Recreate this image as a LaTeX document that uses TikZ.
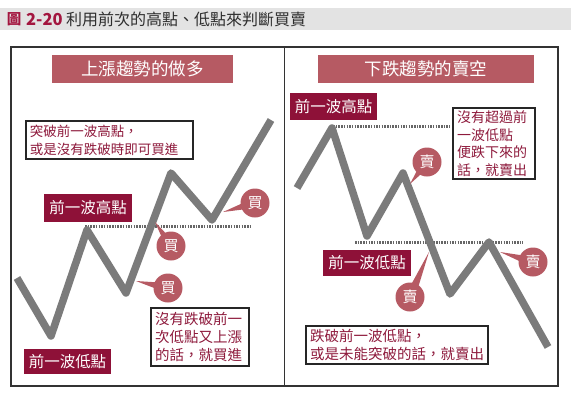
\documentclass[tikz,border=0pt]{standalone}
\usepackage{fontspec}
\setmainfont{Noto Sans CJK TC}
\usetikzlibrary{calc}
\definecolor{hdr}{HTML}{E3E3E3}
\definecolor{titlered}{HTML}{A3163F}
\definecolor{titlegray}{HTML}{2E2E2E}
\definecolor{titlebg}{HTML}{B65A63}
\definecolor{maroon}{HTML}{8E1138}
\definecolor{notered}{HTML}{8E1A3C}
\definecolor{bubblecol}{HTML}{B65A63}
\definecolor{wavegray}{HTML}{7B7B7B}
\definecolor{framecol}{HTML}{333333}
\newcommand\bubtail[2]{\fill[bubblecol] (#2) -- ($(#1)!5pt!90:(#2)$) -- ($(#1)!5pt!-90:(#2)$) -- cycle;}
\tikzset{
  framebox/.style={draw=framecol, line width=1.5pt},
  tbox/.style={fill=titlebg, text=white, inner sep=0pt, minimum height=28pt, font=\fontsize{17.5}{20}\selectfont},
  lbl/.style={fill=maroon, text=white, inner sep=0pt, font=\fontsize{15.5}{18}\selectfont},
  note/.style={draw=black!85, line width=1.2pt, fill=white, text=notered, align=left, inner xsep=4pt, inner ysep=2pt, font=\fontsize{13.5}{18}\selectfont},
  bubble/.style={circle, fill=bubblecol, text=white, minimum size=29pt, inner sep=0pt, font=\fontsize{15}{15}\selectfont},
  wave/.style={draw=wavegray, line width=7.5pt, line join=round},
  dots/.style={draw=black!60, line width=3pt, dash pattern=on 1.5pt off 1.2pt}
}
\begin{document}
\begin{tikzpicture}[x=1pt,y=-1pt]
\useasboundingbox (0,0) rectangle (571,400);
% header
\fill[hdr] (0,8) rectangle (571,30);
\node[text=titlered, inner sep=0pt, font=\fontsize{14.5}{15}\selectfont\bfseries] (tfig) at (14,19.5) {圖};
\node[anchor=west, text=titlered, inner sep=0pt, font=\fontsize{16.5}{16}\selectfont\bfseries] (tnum) at (26,19.5) {2-20};
\node[anchor=west, text=titlegray, inner sep=0pt, font=\fontsize{16}{16}\selectfont] (ttext) at (66,19.5) {利用前次的高點、低點來判斷買賣};
% frames
\draw[framebox] (11,47) rectangle (558,386);
\draw[framebox] (284.5,47) -- (284.5,386);
% titles
\node[tbox, minimum width=181pt] (ltitle) at (142.5,69) {上漲趨勢的做多};
\node[tbox, minimum width=216pt] (rtitle) at (426,69) {下跌趨勢的賣空};
% dotted lines
\coordinate (ld1) at (85,226);
\coordinate (ld2) at (252,226);
\draw[dots] (ld1) -- (ld2);
\coordinate (rd1) at (333,126);
\coordinate (rd2) at (450,126);
\draw[dots] (rd1) -- (rd2);
\coordinate (rd3) at (355,242);
\coordinate (rd4) at (523,242);
\draw[dots] (rd3) -- (rd4);
% waves
\coordinate (l0) at (17,278);
\coordinate (l1) at (51,336);
\coordinate (l2) at (87,230);
\coordinate (l3) at (126,293);
\coordinate (l4) at (171,173);
\coordinate (l5) at (212,220);
\coordinate (l6) at (271,120);
\draw[wave] (l0) -- (l1) -- (l2) -- (l3) -- (l4) -- (l5) -- (l6);
\coordinate (r0) at (297,188);
\coordinate (r1) at (332,128);
\coordinate (r2) at (367,236);
\coordinate (r3) at (403,173);
\coordinate (r4) at (450,294);
\coordinate (r5) at (489,242);
\coordinate (r6) at (548,347);
\draw[wave] (r0) -- (r1) -- (r2) -- (r3) -- (r4) -- (r5) -- (r6);
% left bubbles
\coordinate (ca) at (255,203); \coordinate (ta) at (223,212);
\coordinate (cb) at (171,246); \coordinate (tb) at (155,222);
\coordinate (cc) at (168,288); \coordinate (tc) at (136,281);
\bubtail{ca}{ta}\bubtail{cb}{tb}\bubtail{cc}{tc}
\node[bubble] (ba) at (ca) {買};
\node[bubble] (bb) at (cb) {買};
\node[bubble] (bc) at (cc) {買};
% right bubbles
\coordinate (cd) at (427,162); \coordinate (td) at (410,184);
\coordinate (ce) at (410,297); \coordinate (te) at (429,252);
\coordinate (cf) at (533,262); \coordinate (tf) at (500,252);
\bubtail{cd}{td}\bubtail{ce}{te}\bubtail{cf}{tf}
\node[bubble] (bd) at (cd) {賣};
\node[bubble] (be) at (ce) {賣};
\node[bubble] (bf) at (cf) {賣};
% labels
\node[lbl, minimum width=88pt, minimum height=28pt] (lhigh) at (88,208) {前一波高點};
\node[lbl, minimum width=87pt, minimum height=25pt] (llow) at (67.5,361.5) {前一波低點};
\node[lbl, minimum width=87pt, minimum height=27pt] (rhigh) at (333.5,106.5) {前一波高點};
\node[lbl, minimum width=88pt, minimum height=26pt] (rlow) at (367,263) {前一波低點};
% notes
\node[note, text width=159pt, minimum height=38pt] (ln1) at (109.5,140) {突破前一波高點，\\或是沒有跌破時即可買進};
\node[note, text width=90pt, minimum height=58pt, font=\fontsize{14.5}{18}\selectfont] (ln2) at (200,337) {沒有跌破前一\\次低點又上漲\\的話，就買進};
\node[note, text width=74pt, minimum height=71pt, font=\fontsize{14}{17.5}\selectfont] (rn1) at (494,143.5) {沒有超過前\\一波低點\\便跌下來的\\話，就賣出};
\node[note, text width=174pt, minimum height=38pt, font=\fontsize{14.5}{18}\selectfont] (rn2) at (397,345) {跌破前一波低點，\\或是未能突破的話，就賣出};
\end{tikzpicture}
\end{document}
